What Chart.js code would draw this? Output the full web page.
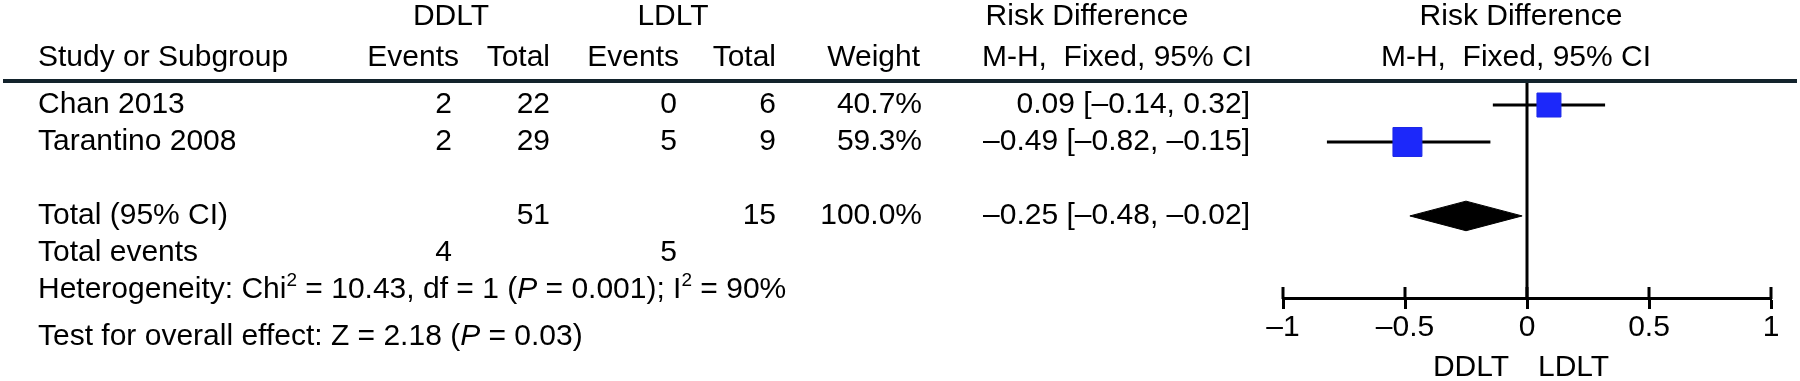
<!DOCTYPE html>
<html lang="en">
<head>
    <meta charset="UTF-8">
    <title>Forest plot: DDLT vs LDLT</title>
    <script src="https://cdn.jsdelivr.net/npm/chart.js"></script>
    <style>
        body { margin: 0; background: #fff; }
        canvas { display: block; }
    </style>
</head>
<body>
    <canvas id="forest" width="1800" height="381"></canvas>

    <script>
        // Study data
        const studies = ['Chan 2013', 'Tarantino 2008'];
        const ddltEvents = [2, 2];
        const ddltTotal = [22, 29];
        const ldltEvents = [0, 5];
        const ldltTotal = [6, 9];
        const weights = [40.7, 59.3];
        const riskDiff = [0.09, -0.49];
        const ciLow = [-0.14, -0.82];
        const ciHigh = [0.32, -0.15];

        // Pooled result
        const pooledDiff = -0.25;
        const pooledLow = -0.48;
        const pooledHigh = -0.02;
        const pooledTotals = [51, 15];
        const pooledEvents = [4, 5];
        const pooledWeight = 100.0;

        // Axis
        const xTicks = [-1, -0.5, 0, 0.5, 1];
        const favourLabels = ['DDLT', 'LDLT'];

        const FONT = 'Liberation Sans, Arial, Helvetica, sans-serif';
        const SIZE = 30;
        Chart.defaults.font.family = FONT;
        Chart.defaults.font.size = SIZE;
        Chart.defaults.color = '#000';

        // rows: studies at 1..n, then a blank row, total, total events, heterogeneity
        const n = studies.length;
        const rowTotal = n + 2;
        const rowEvents = n + 3;
        const rowHet = n + 4;
        const rowTest = n + 5.27;
        const rowHead1 = -1.4;
        const rowHead2 = -0.27;
        const yMin = 0.35;
        const yMax = n + 4.22;
        const diamondHalf = 0.4;

        function fmt(v) {
            return v < 0 ? '\u2013' + Math.abs(v).toFixed(2) : v.toFixed(2);
        }
        function ciText(est, lo, hi) {
            return fmt(est) + ' [' + fmt(lo) + ', ' + fmt(hi) + ']';
        }

        // draws text pieces with superscripts / italics
        function drawRich(ctx, runs, x, y) {
            let cx = x;
            runs.forEach(r => {
                const s = r.sup ? Math.round(SIZE * 0.62) : SIZE;
                ctx.font = (r.italic ? 'italic ' : '') + s + 'px ' + FONT;
                ctx.fillText(r.t, cx, r.sup ? y - SIZE * 0.32 : y);
                cx += ctx.measureText(r.t).width;
            });
        }

        const tablePlugin = {
            id: 'tableText',
            afterDraw(chart) {
                const ctx = chart.ctx;
                const xs = chart.scales.x;
                const ys = chart.scales.y;
                const py = v => ys.getPixelForValue(v);
                ctx.save();

                // header rule
                ctx.fillStyle = '#13232c';
                ctx.fillRect(3, chart.chartArea.top - 2, 1794, 4);

                // tick marks above the axis line
                ctx.strokeStyle = '#000';
                ctx.lineWidth = 3;
                xTicks.forEach(v => {
                    const px = xs.getPixelForValue(v);
                    ctx.beginPath();
                    ctx.moveTo(px, xs.top - 11);
                    ctx.lineTo(px, xs.top + 1);
                    ctx.stroke();
                });

                ctx.fillStyle = '#000';
                ctx.textBaseline = 'middle';
                ctx.font = SIZE + 'px ' + FONT;

                const text = (t, x, y, align) => {
                    ctx.textAlign = align;
                    ctx.fillText(t, x, y);
                };
                const x0 = xs.getPixelForValue(0);

                // headers
                text('DDLT', 451, py(rowHead1), 'center');
                text('LDLT', 673, py(rowHead1), 'center');
                text('Risk Difference', 1087, py(rowHead1), 'center');
                text('Risk Difference', x0 - 6, py(rowHead1), 'center');
                text('Study or Subgroup', 38, py(rowHead2), 'left');
                text('Events', 459, py(rowHead2), 'right');
                text('Total', 550, py(rowHead2), 'right');
                text('Events', 679, py(rowHead2), 'right');
                text('Total', 776, py(rowHead2), 'right');
                text('Weight', 920, py(rowHead2), 'right');
                text('M-H,  Fixed, 95% CI', 1117, py(rowHead2), 'center');
                text('M-H,  Fixed, 95% CI', x0 - 11, py(rowHead2), 'center');

                // study rows
                studies.forEach((s, i) => {
                    const y = py(i + 1);
                    text(s, 38, y, 'left');
                    text(String(ddltEvents[i]), 452, y, 'right');
                    text(String(ddltTotal[i]), 550, y, 'right');
                    text(String(ldltEvents[i]), 677, y, 'right');
                    text(String(ldltTotal[i]), 776, y, 'right');
                    text(weights[i].toFixed(1) + '%', 922, y, 'right');
                    text(ciText(riskDiff[i], ciLow[i], ciHigh[i]), 1250, y, 'right');
                });

                // totals
                text('Total (95% CI)', 38, py(rowTotal), 'left');
                text(String(pooledTotals[0]), 550, py(rowTotal), 'right');
                text(String(pooledTotals[1]), 776, py(rowTotal), 'right');
                text(pooledWeight.toFixed(1) + '%', 922, py(rowTotal), 'right');
                text(ciText(pooledDiff, pooledLow, pooledHigh), 1250, py(rowTotal), 'right');
                text('Total events', 38, py(rowEvents), 'left');
                text(String(pooledEvents[0]), 452, py(rowEvents), 'right');
                text(String(pooledEvents[1]), 677, py(rowEvents), 'right');

                ctx.textAlign = 'left';
                drawRich(ctx, [
                    {t: 'Heterogeneity: Chi'}, {t: '2', sup: true},
                    {t: ' = 10.43, df = 1 ('}, {t: 'P', italic: true},
                    {t: ' = 0.001); I'}, {t: '2', sup: true}, {t: ' = 90%'}
                ], 38, py(rowHet));
                drawRich(ctx, [
                    {t: 'Test for overall effect: Z = 2.18 ('}, {t: 'P', italic: true},
                    {t: ' = 0.03)'}
                ], 38, py(rowTest));

                // favours labels under the axis
                ctx.font = SIZE + 'px ' + FONT;
                text(favourLabels[0], x0 - 18, 368, 'right');
                text(favourLabels[1], x0 + 11, 368, 'left');

                ctx.restore();
            }
        };

        const squares = {
            data: studies.map((s, i) => ({x: riskDiff[i], y: i + 1})),
            pointStyle: 'rect',
            pointRadius: weights.map(w => 2.66 * Math.sqrt(w)),
            backgroundColor: 'rgb(28, 40, 250)',
            borderColor: 'rgb(28, 40, 230)',
            borderWidth: 1,
            order: 0
        };

        const ciLines = studies.map((s, i) => ({
            data: [{x: ciLow[i], y: i + 1}, {x: ciHigh[i], y: i + 1}],
            showLine: true,
            borderColor: '#000',
            borderWidth: 3,
            pointRadius: 0,
            order: 2
        }));

        const diamond = {
            data: [
                {x: pooledLow, y: rowTotal},
                {x: pooledDiff, y: rowTotal - diamondHalf},
                {x: pooledHigh, y: rowTotal},
                {x: pooledDiff, y: rowTotal + diamondHalf},
                {x: pooledLow, y: rowTotal}
            ],
            showLine: true,
            fill: 'shape',
            backgroundColor: '#000',
            borderColor: '#000',
            borderWidth: 1,
            pointRadius: 0,
            order: 1
        };

        const zeroLine = {
            data: [{x: 0, y: yMin}, {x: 0, y: yMax}],
            showLine: true,
            borderColor: '#000',
            borderWidth: 3,
            pointRadius: 0,
            order: 3
        };

        new Chart(document.getElementById('forest').getContext('2d'), {
            type: 'scatter',
            data: {
                datasets: [squares, diamond, ...ciLines, zeroLine]
            },
            options: {
                responsive: false,
                animation: false,
                layout: { padding: { left: 1283, right: 29, top: 81, bottom: 0 } },
                plugins: {
                    legend: { display: false },
                    tooltip: { enabled: false }
                },
                scales: {
                    x: {
                        type: 'linear',
                        min: -1,
                        max: 1,
                        afterFit: s => { s.height = 83; },
                        afterBuildTicks: s => { s.ticks = xTicks.map(v => ({value: v})); },
                        ticks: {
                            padding: 1,
                            color: '#000',
                            callback: v => v < 0 ? '\u2013' + Math.abs(v) : String(v)
                        },
                        border: { display: true, width: 3, color: '#000' },
                        grid: {
                            drawOnChartArea: false,
                            drawTicks: true,
                            tickLength: 11,
                            tickWidth: 3,
                            tickColor: '#000'
                        }
                    },
                    y: {
                        type: 'linear',
                        display: false,
                        reverse: true,
                        min: yMin,
                        max: yMax
                    }
                }
            },
            plugins: [tablePlugin]
        });
    </script>
</body>
</html>
